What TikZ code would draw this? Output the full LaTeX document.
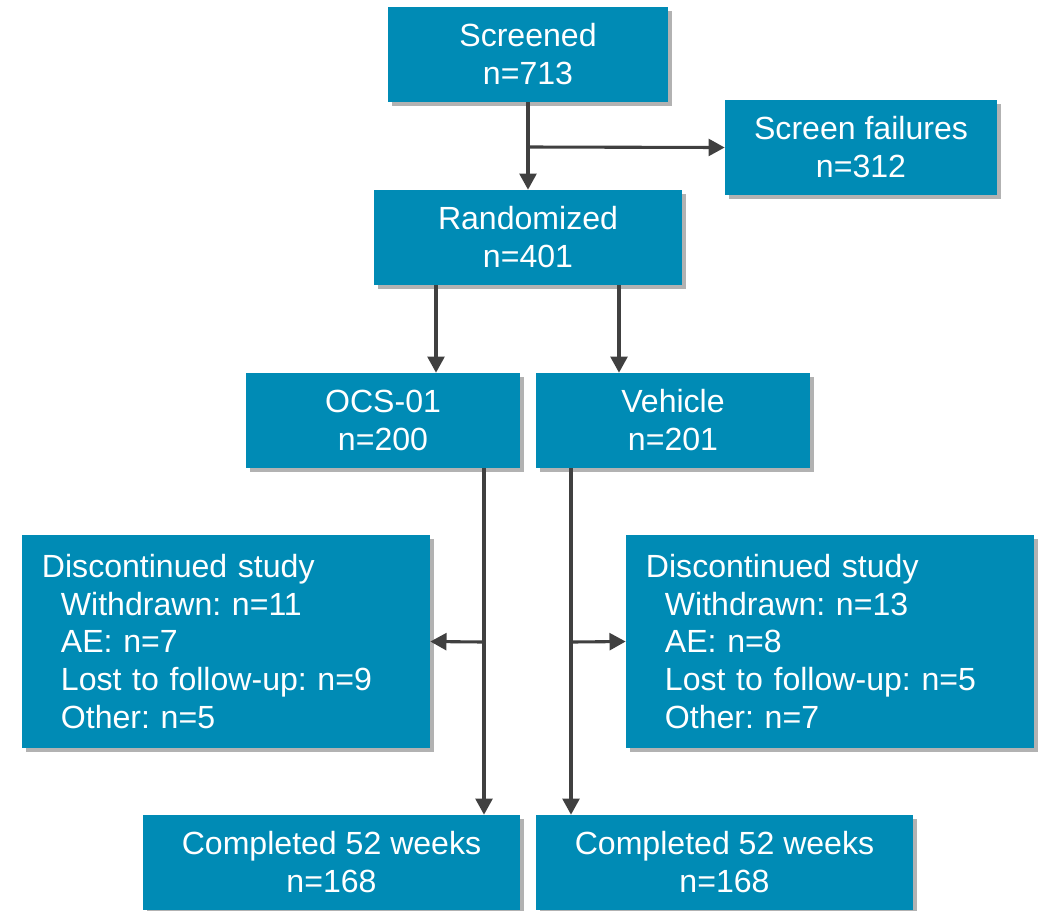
\documentclass[tikz,border=0pt]{standalone}
\usepackage{fontspec}
\setmainfont{Liberation Sans}
\usetikzlibrary{arrows.meta,shadows}
\definecolor{boxblue}{RGB}{0,139,181}
\definecolor{linegray}{RGB}{64,64,64}
\tikzset{
  flowbox/.style={fill=boxblue, text=white, align=center, inner sep=0pt,
    minimum height=2.375cm, font=\fontsize{22.8}{27}\selectfont,
    drop shadow={shadow xshift=0.09cm, shadow yshift=-0.09cm, fill=black, opacity=0.3}},
  listbox/.style={flowbox, align=left, minimum height=5.325cm, minimum width=10.2cm,
    text width=9.2cm},
  flow/.style={draw=linegray, line width=2.2pt, -{Triangle[length=11.5pt, width=12pt]}},
}
\newcommand{\ind}{\hspace*{13.5pt}}
\frenchspacing
\begin{document}
\begin{tikzpicture}[x=0.025cm, y=-0.025cm]
  \clip (0,0) rectangle (1043,910);

  % boxes, placed at pixel coordinates
  \node[flowbox, minimum width=7cm]    (screened)   at (528,54.5)  {Screened\\n=713};
  \node[flowbox, minimum width=6.8cm]  (failures)   at (861,147.5) {Screen failures\\n=312};
  \node[flowbox, minimum width=7.7cm]  (randomized) at (528,237.5) {Randomized\\n=401};
  \node[flowbox, minimum width=6.85cm] (ocs)        at (383,420.5) {OCS-01\\n=200};
  \node[flowbox, minimum width=6.85cm] (vehicle)    at (673,420.5) {Vehicle\\n=201};
  \node[listbox] (ocsdisc) at (226,641.5) {Discontinued study\\
    \ind Withdrawn: n=11\\ \ind AE: n=7\\ \ind Lost to follow-up: n=9\\ \ind Other: n=5};
  \node[listbox] (vehdisc) at (830,641.5) {Discontinued study\\
    \ind Withdrawn: n=13\\ \ind AE: n=8\\ \ind Lost to follow-up: n=5\\ \ind Other: n=7};
  \node[flowbox, minimum width=9.425cm] (ocsdone) at (331.5,862.5) {Completed 52 weeks\\n=168};
  \node[flowbox, minimum width=9.425cm] (vehdone) at (724.5,862.5) {Completed 52 weeks\\n=168};

  % helper points for the connector lines
  \coordinate (split) at (528,147);
  \coordinate (armA) at (436,0);
  \coordinate (armB) at (619,0);
  \coordinate (lineA) at (484,642);
  \coordinate (lineB) at (571,642);

  % connectors
  \draw[flow] (screened) -- (randomized);
  \draw[flow] (split) -- (failures.west);
  \draw[flow] (randomized.south -| armA) -- (ocs.north -| armA);
  \draw[flow] (randomized.south -| armB) -- (vehicle.north -| armB);
  \draw[flow] (ocs.south -| lineA) -- (ocsdone.north -| lineA);
  \draw[flow] (vehicle.south -| lineB) -- (vehdone.north -| lineB);
  \draw[flow] (lineA) -- (ocsdisc.east);
  \draw[flow] (lineB) -- (vehdisc.west);
\end{tikzpicture}
\end{document}
